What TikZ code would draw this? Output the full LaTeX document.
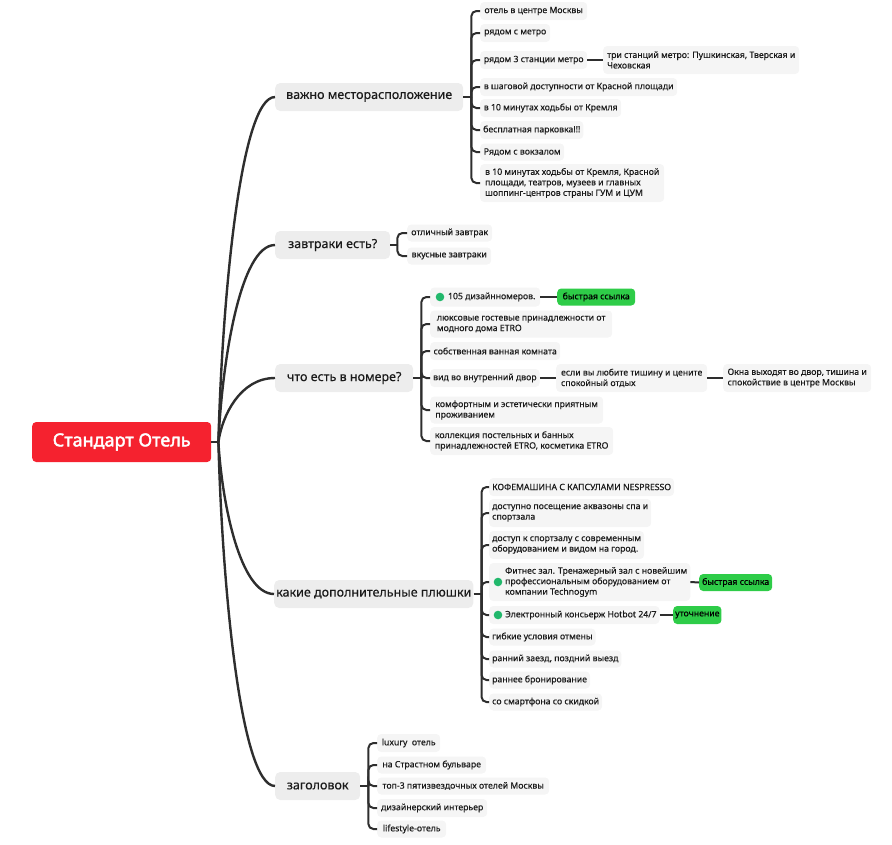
\documentclass[tikz,border=0pt]{standalone}
\usepackage{fontspec}
\setmainfont{Noto Sans}
\newfontfamily\rootfont{Noto Sans}[FakeBold=2.2]
\newfontfamily\leaffont{Noto Sans}[FakeBold=0.35]
\usetikzlibrary{calc}
\definecolor{linec}{HTML}{2E2E2E}
\definecolor{textc}{HTML}{1A1A1A}
\definecolor{leafc}{HTML}{F5F5F5}
\definecolor{branchc}{HTML}{EDEDED}
\definecolor{rootc}{HTML}{F5222F}
\definecolor{tagc}{HTML}{2ECC48}
\definecolor{dotc}{HTML}{22B86C}
\newcommand\lf[6]{%
  \node[leaf,minimum width=#4pt,minimum height=#5pt] (#1) at (#2,#3) {#6};}
\newcommand\ind{\hspace*{13pt}}
\begin{document}
\begin{tikzpicture}[x=1pt,y=-1pt,
  leaf/.style={fill=leafc,rounded corners=4pt,anchor=west,inner xsep=3pt,inner ysep=2pt,
    align=left,text=textc,font=\fontsize{8.7}{10.5}\leaffont},
  branch/.style={fill=branchc,rounded corners=5pt,anchor=west,minimum height=28pt,
    text=textc,font=\fontsize{12.5}{14}\leaffont,inner sep=2pt},
  rootbox/.style={fill=rootc,rounded corners=4pt,anchor=west,text=white,
    font=\fontsize{18}{20}\rootfont,minimum width=179pt,minimum height=40pt},
  tag/.style={fill=tagc,rounded corners=4pt,anchor=west,text=black,inner sep=2pt,
    font=\fontsize{8.7}{10.5}\leaffont,minimum height=17pt},
  mainconn/.style={draw=linec,line width=2.4pt},
  bconn/.style={draw=linec,line width=2pt,rounded corners=5pt},
  sconn/.style={draw=linec,line width=2pt}]
\useasboundingbox (0,0) rectangle (892,844);

% root and branches
\node[rootbox] (root) at (32,442) {Стандарт Отель};
\node[branch,minimum width=188pt] (b1) at (275,97) {важно месторасположение};
\node[branch,minimum width=115pt] (b2) at (275,245) {завтраки есть?};
\node[branch,minimum width=138pt] (b3) at (275,378) {что есть в номере?};
\node[branch,minimum width=199pt] (b4) at (274,594) {какие дополнительные плюшки};
\node[branch,minimum width=85pt] (b5) at (275,786) {заголовок};

\draw[mainconn] (root.east) -- ++(7,0) coordinate (rs);
\draw[mainconn] (rs) .. controls (222,304) and (240,97) .. (b1.west);
\draw[mainconn] (rs) .. controls (222,363) and (240,245) .. (b2.west);
\draw[mainconn] (rs) .. controls (222,416) and (240,378) .. (b3.west);
\draw[mainconn] (rs) .. controls (222,503) and (240,594) .. (b4.west);
\draw[mainconn] (rs) .. controls (222,580) and (240,786) .. (b5.west);

% branch 1
\lf{a1}{480}{11}{107}{18}{отель в центре Москвы}
\lf{a2}{480}{33}{70}{18}{рядом с метро}
\lf{a3}{480}{60}{107}{18}{рядом 3 станции метро}
\lf{a3x}{603}{60}{196}{28}{три станций метро: Пушкинская, Тверская и\\Чеховская}
\lf{a4}{480}{87}{197}{18}{в шаговой доступности от Красной площади}
\lf{a5}{480}{108}{141}{18}{в 10 минутах ходьбы от Кремля}
\lf{a6}{480}{130}{103}{18}{бесплатная парковка!!!}
\lf{a7}{480}{152}{84}{17}{Рядом с вокзалом}
\lf{a8}{480}{183}{184}{38}{в 10 минутах ходьбы от Кремля, Красной\\площади, театров, музеев и главных\\шоппинг-центров страны ГУМ и ЦУМ}
\draw[sconn] (b1.east) -- ++(8,0) coordinate (j1);
\foreach \n in {a1,a2,a3,a4,a5,a6,a7,a8} \draw[bconn] (j1) |- (\n.west);
\draw[sconn] (a3.east) -- (a3x.west);

% branch 2
\lf{c1}{407}{233}{85}{17}{отличный завтрак}
\lf{c2}{407}{256}{84}{17}{вкусные завтраки}
\draw[sconn] (b2.east) -- ++(7,0) coordinate (j2);
\foreach \n in {c1,c2} \draw[bconn] (j2) |- (\n.west);

% branch 3
\lf{d1}{430}{297}{110}{19}{\ind 105 дизайнномеров.}
\fill[dotc] ([xshift=10pt]d1.west) circle (4.3pt);
\node[tag,minimum width=78pt] (d1x) at (557,297) {быстрая ссылка};
\lf{d2}{430}{324}{182}{27}{люксовые гостевые принадлежности от\\модного дома ETRO}
\lf{d3}{430}{351}{130}{18}{собственная ванная комната}
\lf{d4}{430}{378}{109}{18}{вид во внутренний двор}
\lf{d4x}{556}{378}{151}{28}{если вы любите тишину и цените\\спокойный отдых}
\lf{d4y}{723}{378}{148}{28}{Окна выходят во двор, тишина и\\спокойствие в центре Москвы}
\lf{d5}{430}{410}{173}{27}{комфортным и эстетически приятным\\проживанием}
\lf{d6}{430}{441}{183}{28}{коллекция постельных и банных\\принадлежностей ETRO, косметика ETRO}
\draw[sconn] (b3.east) -- ++(8,0) coordinate (j3);
\foreach \n in {d1,d2,d3,d4,d5,d6} \draw[bconn] (j3) |- (\n.west);
\draw[sconn] (d1.east) -- (d1x.west);
\draw[sconn] (d4.east) -- (d4x.west);
\draw[sconn] (d4x.east) -- (d4y.west);

% branch 4
\lf{e1}{489}{487}{175}{18}{КОФЕМАШИНА С КАПСУЛАМИ NESPRESSO}
\lf{e2}{489}{513}{155}{28}{доступно посещение аквазоны спа и\\спортзала}
\lf{e3}{489}{545}{151}{28}{доступ к спортзалу с современным\\оборудованием и видом на город.}
\lf{e4}{489}{582}{194}{38}{\ind Фитнес зал. Тренажерный зал с новейшим\\\ind профессиональным оборудованием от\\\ind компании Technogym}
\fill[dotc] ([xshift=9pt]e4.west) circle (4.3pt);
\node[tag,minimum width=73pt] (e4x) at (699,582.5) {быстрая ссылка};
\lf{e5}{489}{615}{168}{18}{\ind Электронный консьерж Hotbot 24/7}
\fill[dotc] ([xshift=9pt]e5.west) circle (4.3pt);
\node[tag,minimum width=47pt,minimum height=18pt] (e5x) at (673,615) {уточнение};
\lf{e6}{489}{637}{100}{17}{гибкие условия отмены}
\lf{e7}{489}{659}{123}{17}{ранний заезд, поздний выезд}
\lf{e8}{489}{680}{94}{17}{раннее бронирование}
\lf{e9}{489}{702}{109}{17}{со смартфона со скидкой}
\draw[sconn] (b4.east) -- ++(8,0) coordinate (j4);
\foreach \n in {e1,e2,e3,e4,e5,e6,e7,e8,e9} \draw[bconn] (j4) |- (\n.west);
\draw[sconn] (e4.east) -- (e4x.west);
\draw[sconn] (e5.east) -- (e5x.west);

% branch 5
\lf{f1}{377}{743}{63}{18}{luxury\ \ отель}
\lf{f2}{377}{765}{109}{17}{на Страстном бульваре}
\lf{f3}{377}{786}{172}{17}{топ-3 пятизвездочных отелей Москвы}
\lf{f4}{377}{808}{110}{18}{дизайнерский интерьер}
\lf{f5}{377}{829}{69}{17}{lifestyle-отель}
\draw[sconn] (b5.east) -- ++(8,0) coordinate (j5);
\foreach \n in {f1,f2,f3,f4,f5} \draw[bconn] (j5) |- (\n.west);
\end{tikzpicture}
\end{document}
